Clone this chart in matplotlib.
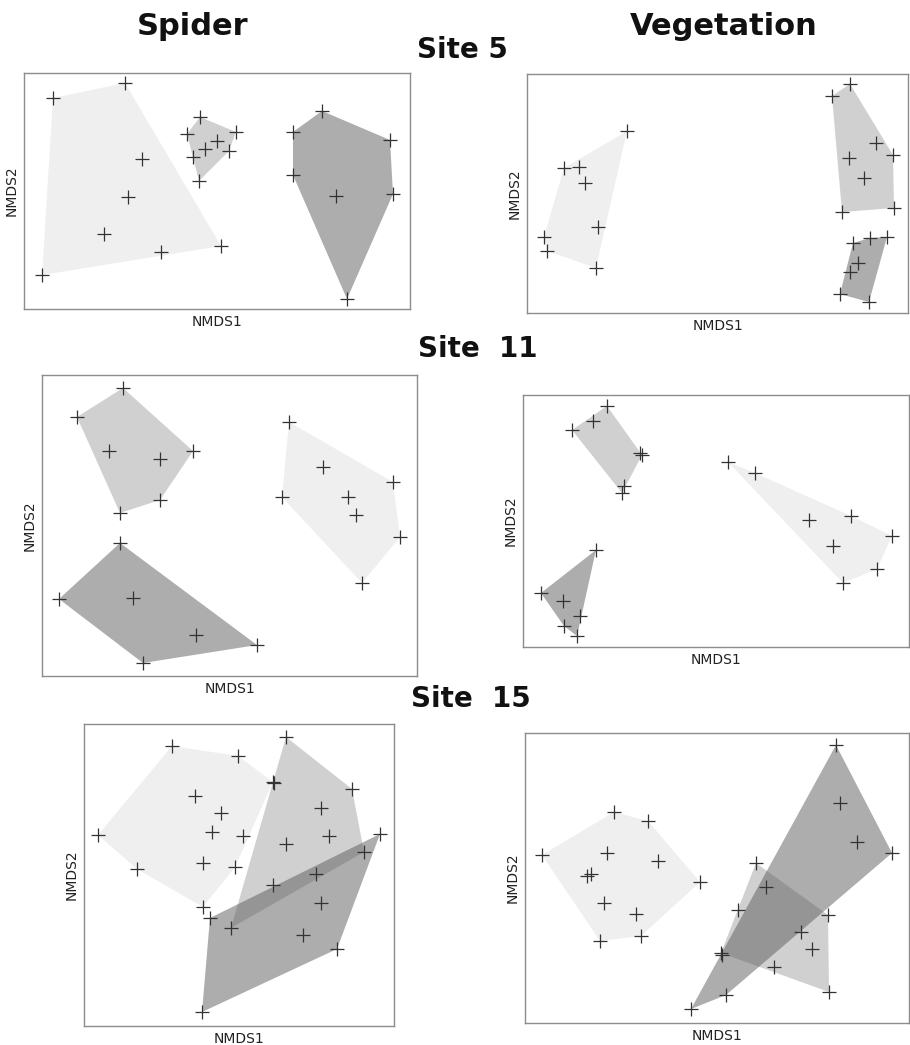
import matplotlib.pyplot as plt
import numpy as np

W, H = 910, 1045

# ordination scores, per panel and group
# (x to the right, y downwards, in box units)
s5_spider_a = [(29, 25), (101, 10), (18, 202), (197, 173), (118, 86), (104, 124), (80, 161), (137, 179)]
s5_spider_b = [(176, 44), (163, 61), (212, 59), (193, 68), (181, 76), (205, 78), (169, 84), (175, 108)]
s5_spider_c = [(298, 38), (269, 59), (366, 67), (269, 102), (312, 123), (369, 121), (323, 226)]

s5_veg_a = [(100, 57), (37, 94), (52, 93), (58, 109), (71, 153), (17, 163), (20, 177), (69, 194)]
s5_veg_b = [(323, 10), (305, 22), (349, 69), (366, 81), (322, 84), (337, 104), (367, 134), (315, 138)]
s5_veg_c = [(343, 164), (360, 163), (326, 169), (331, 189), (323, 198), (313, 220), (342, 228)]

s11_spider_a = [(247, 47), (281, 92), (351, 107), (240, 122), (306, 122), (314, 140), (358, 162), (320, 208)]
s11_spider_b = [(81, 13), (35, 42), (67, 76), (118, 84), (151, 76), (118, 125), (78, 138)]
s11_spider_c = [(78, 168), (17, 224), (91, 223), (154, 260), (215, 270), (101, 288)]

s11_veg_a = [(205, 67), (232, 78), (286, 125), (328, 121), (369, 141), (310, 151), (354, 174), (320, 188)]
s11_veg_b = [(84, 11), (70, 26), (49, 35), (117, 58), (119, 60), (101, 91), (99, 98)]
s11_veg_c = [(73, 155), (18, 198), (40, 206), (57, 221), (41, 231), (54, 241)]

s15_spider_a = [(88, 22), (154, 32), (189, 58), (111, 72), (137, 89), (14, 111), (128, 108),
                (159, 112), (119, 139), (151, 143), (53, 145), (119, 183)]
s15_spider_b = [(202, 13), (190, 59), (268, 65), (237, 84), (245, 112), (202, 120), (280, 128),
                (189, 161), (147, 204)]
s15_spider_c = [(296, 110), (232, 150), (237, 179), (219, 211), (253, 225), (118, 288), (126, 194)]

s15_veg_a = [(89, 79), (123, 88), (17, 122), (82, 120), (133, 128), (62, 143), (66, 141),
             (175, 149), (79, 170), (111, 181), (116, 203), (75, 208)]
s15_veg_b = [(231, 130), (241, 154), (213, 177), (303, 182), (276, 199), (287, 216),
             (249, 234), (304, 259), (196, 220)]
s15_veg_c = [(311, 12), (315, 70), (332, 109), (367, 120), (197, 222), (201, 262), (166, 276)]

# panel boxes in picture pixels: left, top, width, height
panels = [
    ((24, 73, 386, 236), [s5_spider_a, s5_spider_b, s5_spider_c]),
    ((527, 74, 381, 239), [s5_veg_a, s5_veg_b, s5_veg_c]),
    ((42, 375, 375, 301), [s11_spider_a, s11_spider_b, s11_spider_c]),
    ((523, 395, 386, 252), [s11_veg_a, s11_veg_b, s11_veg_c]),
    ((84, 724, 310, 302), [s15_spider_a, s15_spider_b, s15_spider_c]),
    ((525, 733, 384, 290), [s15_veg_a, s15_veg_b, s15_veg_c]),
]

# light, mid, dark (dark is see-through so overlaps get darker)
fills = [('#efefef', 1.0), ('#d0d0d0', 1.0), ('#5c5c5c', 0.5)]


def hull(pts):
    pts = sorted(set(pts))
    def cross(o, a, b):
        return (a[0] - o[0]) * (b[1] - o[1]) - (a[1] - o[1]) * (b[0] - o[0])
    lower, upper = [], []
    for p in pts:
        while len(lower) >= 2 and cross(lower[-2], lower[-1], p) <= 0:
            lower.pop()
        lower.append(p)
    for p in reversed(pts):
        while len(upper) >= 2 and cross(upper[-2], upper[-1], p) <= 0:
            upper.pop()
        upper.append(p)
    return np.array(lower[:-1] + upper[:-1])


fig = plt.figure(figsize=(W / 100, H / 100), dpi=100)

for (l, t, w, h), groups in panels:
    ax = fig.add_axes([l / W, 1 - (t + h) / H, w / W, h / H])
    for grp, (col, a) in zip(groups, fills):
        hp = hull(grp)
        ax.fill(hp[:, 0], hp[:, 1], color=col, alpha=a, lw=0, zorder=1)
    for grp in groups:
        g = np.array(grp)
        ax.plot(g[:, 0], g[:, 1], '+', color='#333333', ms=10, mew=0.9, zorder=3)
    ax.set_xlim(0, w)
    ax.set_ylim(h, 0)
    ax.set_xticks([])
    ax.set_yticks([])
    for sp in ax.spines.values():
        sp.set_color('#8c8c8c')
        sp.set_linewidth(1)
    ax.set_xlabel('NMDS1', fontsize=10, color='#222222', labelpad=4)
    ax.set_ylabel('NMDS2', fontsize=10, color='#222222', labelpad=4)

fig.text(193 / W, 1 - 35 / H, 'Spider', fontsize=22, fontweight='bold', ha='center', va='baseline', color='#111111')
fig.text(724 / W, 1 - 35 / H, 'Vegetation', fontsize=22, fontweight='bold', ha='center', va='baseline', color='#111111')
fig.text(462 / W, 1 - 58 / H, 'Site 5', fontsize=20, fontweight='bold', ha='center', va='baseline', color='#111111')
fig.text(478 / W, 1 - 357 / H, 'Site  11', fontsize=20, fontweight='bold', ha='center', va='baseline', color='#111111')
fig.text(471 / W, 1 - 707 / H, 'Site  15', fontsize=20, fontweight='bold', ha='center', va='baseline', color='#111111')

fig.savefig('out.png', dpi=100)
